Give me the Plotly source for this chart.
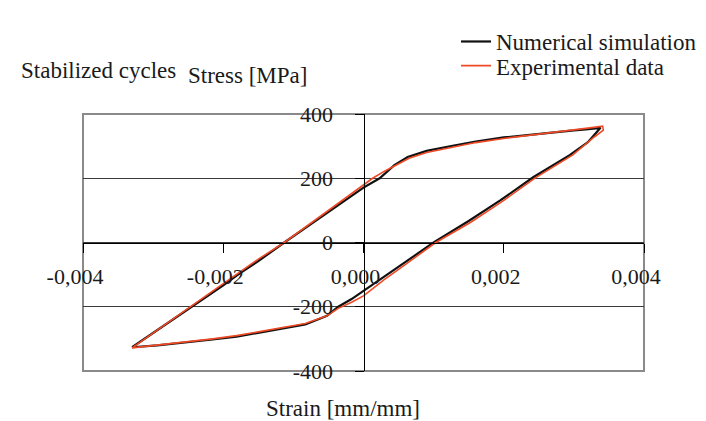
import plotly.graph_objects as go

# ---------------- data ----------------
x_tick_vals = [-0.004, -0.002, 0.0, 0.002, 0.004]
x_tick_text = ["-0,004", "-0,002", "0,000", "0,002", "0,004"]
y_tick_vals = [-400, -200, 0, 200, 400]
y_tick_text = ["-400", "-200", "0", "200", "400"]

# Numerical simulation (closed loop: upper branch then lower branch)
num_strain = [-0.00330, -0.00300, -0.00245, -0.00200, -0.00177, -0.00150, -0.00113,
              -0.00080, -0.00050, -0.00020, 0.00000, 0.00023, 0.00032, 0.00044,
              0.00063, 0.00090, 0.00129, 0.00160, 0.00200, 0.00240, 0.00270,
              0.00300, 0.00317, 0.00338,
              0.00320, 0.00294, 0.00242, 0.00195, 0.00150, 0.00100, 0.00059,
              0.00030, 0.00000, -0.00017, -0.00036, -0.00052, -0.00083, -0.00120,
              -0.00150, -0.00181, -0.00215, -0.00247, -0.00294, -0.00330]
num_stress = [-326, -282, -200, -133, -97, -58, 0,
              50, 95, 140, 171, 200, 218, 241,
              266, 285, 302, 314, 327, 336, 344,
              349, 352, 357,
              312, 272, 203, 131, 67, 0, -62,
              -106, -152, -176, -200, -228, -255, -270,
              -281, -293, -302, -310, -320, -326]

# Experimental data
exp_strain = [-0.00330, -0.00300, -0.00245, -0.00200, -0.00177, -0.00150, -0.00113,
              -0.00080, -0.00050, -0.00020, 0.00000, 0.00013, 0.00030, 0.00045,
              0.00065, 0.00090, 0.00129, 0.00160, 0.00200, 0.00240, 0.00270,
              0.00300, 0.00320, 0.00341, 0.00342,
              0.00330, 0.00298, 0.00245, 0.00198, 0.00153, 0.00103, 0.00060,
              0.00030, 0.00000, -0.00017, -0.00036, -0.00052, -0.00083, -0.00120,
              -0.00150, -0.00181, -0.00215, -0.00247, -0.00294, -0.00330]
exp_stress = [-328, -281, -197, -128, -93, -52, 0,
              53, 100, 148, 179, 200, 222, 240,
              262, 280, 298, 311, 324, 334, 343,
              350, 356, 362, 350,
              330, 272, 201, 128, 63, 0, -68,
              -115, -166, -186, -205, -228, -252, -267,
              -279, -290, -300, -308, -320, -328]

FONT = "Liberation Serif, Tinos, Times New Roman, DejaVu Serif, serif"
TXT = "#1a1a1a"

fig = go.Figure()
fig.add_trace(go.Scatter(x=num_strain, y=num_stress, mode="lines",
                         name="Numerical simulation",
                         line=dict(color="#111111", width=2.2),
                         legend="legend"))
fig.add_trace(go.Scatter(x=exp_strain, y=exp_stress, mode="lines",
                         name="Experimental data",
                         line=dict(color="#ee4a26", width=1.6),
                         legend="legend2"))

W, H = 706, 421
L, R, T, B = 75, 64, 97, 58
ph = H - T - B
pw = W - L - R

def py(pix):
    return 1 + (T - pix) / ph

def px(pix):
    return (pix - L) / pw

fig.update_layout(
    width=W, height=H,
    margin=dict(l=L, r=R, t=T, b=B),
    paper_bgcolor="white", plot_bgcolor="white",
    font=dict(family=FONT, size=22, color=TXT),
    showlegend=True,
    legend=dict(x=px(452), xanchor="left", y=py(22), yanchor="middle",
                font=dict(size=23, family=FONT, color=TXT),
                bgcolor="rgba(0,0,0,0)", borderwidth=0, itemwidth=30),
    legend2=dict(x=px(452), xanchor="left", y=py(47), yanchor="middle",
                 font=dict(size=23, family=FONT, color=TXT),
                 bgcolor="rgba(0,0,0,0)", borderwidth=0, itemwidth=30),
    xaxis=dict(range=[-0.004, 0.004], anchor="free", position=0.5,
               showline=True, linecolor="#000", linewidth=1,
               ticks="outside", ticklen=9, tickcolor="#000", tickwidth=1,
               tickvals=x_tick_vals, ticktext=x_tick_text,
               showgrid=False, zeroline=False,
               ticklabelstandoff=5, ticklabelshift=-8,
               tickfont=dict(size=22, family=FONT, color=TXT)),
    yaxis=dict(range=[-400, 400], anchor="free", position=0.5,
               showline=True, linecolor="#000", linewidth=1,
               ticks="outside", ticklen=9, tickcolor="#000", tickwidth=1,
               tickvals=y_tick_vals, ticktext=y_tick_text,
               showgrid=True, gridcolor="#3a3a3a", gridwidth=1,
               zeroline=False, ticklabelstandoff=17,
               tickfont=dict(size=22, family=FONT, color=TXT)),
    shapes=[dict(type="rect", xref="paper", yref="paper", x0=0, x1=1, y0=0, y1=1,
                 line=dict(color="#8a8a8a", width=2), layer="below")],
    annotations=[
        dict(text="Stabilized cycles", xref="paper", yref="paper",
             x=px(10), y=py(52), xanchor="left", yanchor="middle",
             showarrow=False, font=dict(size=23, family=FONT, color=TXT)),
        dict(text="Stress [MPa]", xref="paper", yref="paper",
             x=px(179), y=py(57), xanchor="left", yanchor="middle",
             showarrow=False, font=dict(size=23, family=FONT, color=TXT)),
        dict(text="Strain [mm/mm]", xref="paper", yref="paper",
             x=px(338), y=py(402), xanchor="center", yanchor="middle",
             showarrow=False, font=dict(size=23, family=FONT, color=TXT)),
    ],
)

fig.write_html("out.html")
